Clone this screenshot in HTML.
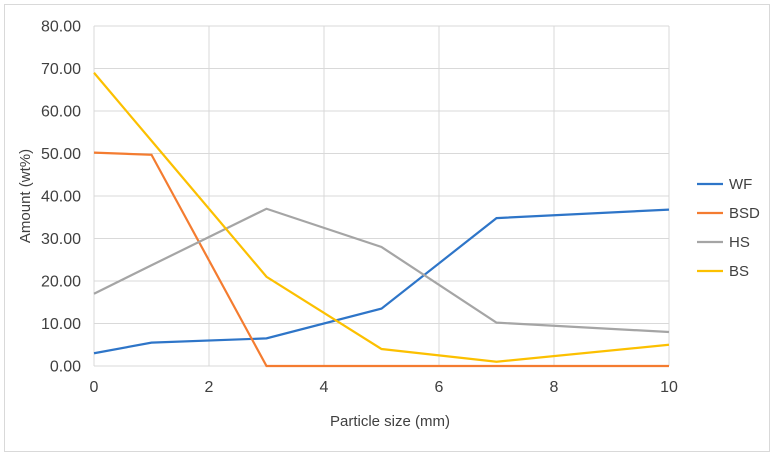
<!DOCTYPE html>
<html><head><meta charset="utf-8"><style>
body{margin:0;background:#fff;}
svg text{font-family:"Liberation Sans",sans-serif;fill:#404040;}
</style></head><body>
<svg width="774" height="458">
<rect x="4.5" y="4.5" width="765" height="447" fill="#fff" stroke="#d9d9d9"/>
<g id="grid"></g><g id="axes"></g><g id="series"></g><g id="legend"></g>
<text x="390" y="426" font-size="15" text-anchor="middle">Particle size (mm)</text>
<text transform="translate(30,196) rotate(-90)" font-size="15" text-anchor="middle">Amount (wt%)</text>
</svg>
<script>
const xs=[0,1,3,5,7,10];
const wf=[3,5.5,6.5,13.5,34.8,36.8];
const bsd=[50.2,49.7,0,0,0,0];
const hs=[17,23.7,37,28,10.2,8];
const bs=[69,53,21,4,1,5];
const names=["WF","BSD","HS","BS"];
const colors=["#2e75c8","#f47c30","#a5a5a5","#fcc000"];
const yTicks=[0,10,20,30,40,50,60,70,80];
const xTicks=[0,2,4,6,8,10];
const NS="http://www.w3.org/2000/svg";
const X=v=>94+v*57.5, Y=v=>366-v*4.25;
function mk(t,a,p){const e=document.createElementNS(NS,t);for(const k in a)e.setAttribute(k,a[k]);p.appendChild(e);return e;}
const grid=document.getElementById('grid'),axes=document.getElementById('axes');
yTicks.forEach(t=>{
 const l=mk('line',{x1:94,x2:669,y1:Y(t),y2:Y(t),stroke:'#d9d9d9','stroke-width':1},grid);
 
 
 const tx=mk('text',{x:81,y:Y(t)+5.5,'font-size':16,'text-anchor':'end'},axes);tx.textContent=t.toFixed(2);
 
 
});
xTicks.forEach(t=>{
 const l=mk('line',{x1:X(t),x2:X(t),y1:Y(0),y2:Y(80),stroke:'#d9d9d9','stroke-width':1},grid);
 
 
 const tx=mk('text',{x:X(t),y:392,'font-size':16,'text-anchor':'middle'},axes);tx.textContent=t;
 
 
});
const sg=document.getElementById('series'),lg=document.getElementById('legend');
[wf,bsd,hs,bs].forEach((d,i)=>{
 const p=mk('polyline',{points:xs.map((x,j)=>X(x)+','+Y(d[j])).join(' '),fill:'none',stroke:colors[i],'stroke-width':2.2},sg);
 
 
 const y=184+i*29;
 const g=mk('g',{},lg);
 
 
 mk('line',{x1:697,x2:723,y1:y,y2:y,stroke:colors[i],'stroke-width':2.2},g);
 const t=mk('text',{x:729,y:y+5,'font-size':15},g);t.textContent=names[i];
});
</script>
</body></html>
